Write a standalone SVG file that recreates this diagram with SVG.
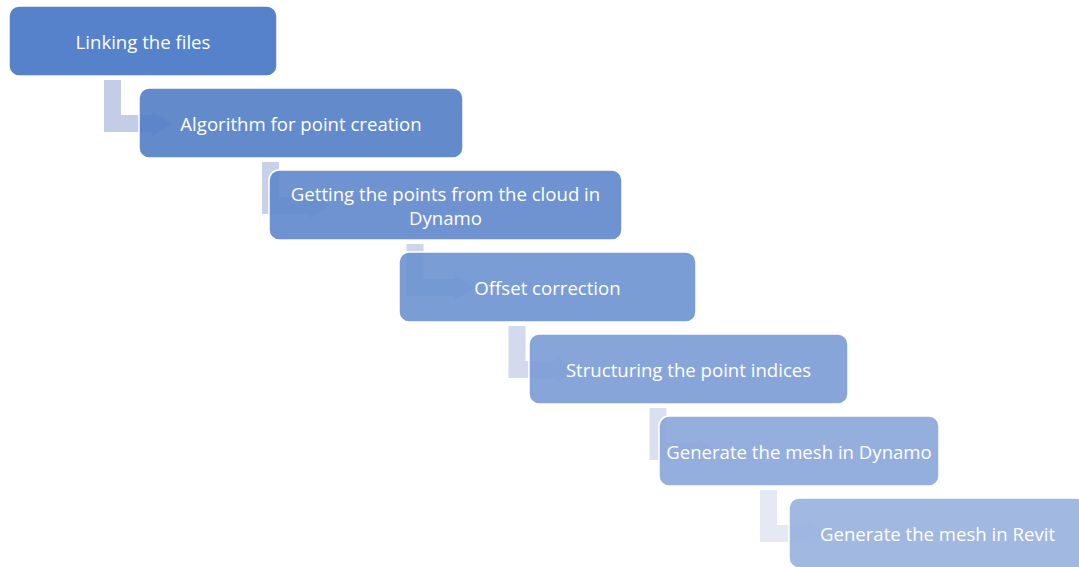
<svg xmlns="http://www.w3.org/2000/svg" width="1079" height="567" viewBox="0 0 1079 567">
<style>
.box{stroke:#ffffff;stroke-width:1.5;fill-opacity:0.9}
.lbl{font-family:"Open Sans","Noto Sans",sans-serif;font-size:18.6px;fill:#ffffff;text-anchor:middle;dominant-baseline:central}
</style>
<rect width="1079" height="567" fill="#ffffff"/>
<g id="connectors">
<path fill="#C3CDE6" d="M104,80 H121 V115 H152 V110.5 L172,123.5 L152,136.5 V132 H104 Z"/>
<path fill="#C8D1E8" d="M262,162 H279 V197 H310 V192.5 L330,205.5 L310,218.5 V214 H262 Z"/>
<path fill="#CDD5EA" d="M406.5,244 H423.5 V279 H454.5 V274.5 L474.5,287.5 L454.5,300.5 V296 H406.5 Z"/>
<path fill="#D4DAED" d="M508.5,326 H525.5 V361 H556.5 V356.5 L576.5,369.5 L556.5,382.5 V378 H508.5 Z"/>
<path fill="#DBE0F0" d="M649.5,408 H666.5 V443 H697.5 V438.5 L717.5,451.5 L697.5,464.5 V460 H649.5 Z"/>
<path fill="#E5E9F3" d="M760,490 H777 V525 H808 V520.5 L828,533.5 L808,546.5 V542 H760 Z"/>
</g>
<g id="node1"><rect class="box" x="9" y="6" width="268" height="70" rx="10" fill="#4374C4"/><text class="lbl" x="143" y="41">Linking the files</text></g>
<g id="node2"><rect class="box" x="139" y="88" width="324" height="70" rx="10" fill="#527EC7"/><text class="lbl" x="301" y="123">Algorithm for point creation</text></g>
<g id="node3"><rect class="box" x="269" y="170" width="353" height="70" rx="10" fill="#5F87CC"/><text class="lbl" x="445.5" y="193">Getting the points from the cloud in</text><text class="lbl" x="445.5" y="217">Dynamo</text></g>
<g id="node4"><rect class="box" x="399" y="252" width="297" height="70" rx="10" fill="#6C92D0"/><text class="lbl" x="547.5" y="287">Offset correction</text></g>
<g id="node5"><rect class="box" x="529" y="334" width="319" height="70" rx="10" fill="#7A9BD4"/><text class="lbl" x="688.5" y="369">Structuring the point indices</text></g>
<g id="node6"><rect class="box" x="659" y="416" width="280" height="70" rx="10" fill="#88A5D9"/><text class="lbl" x="799" y="451">Generate the mesh in Dynamo</text></g>
<g id="node7"><rect class="box" x="789" y="498" width="297" height="70" rx="10" fill="#97B0DE"/><text class="lbl" x="937.5" y="533">Generate the mesh in Revit</text></g>
</svg>
